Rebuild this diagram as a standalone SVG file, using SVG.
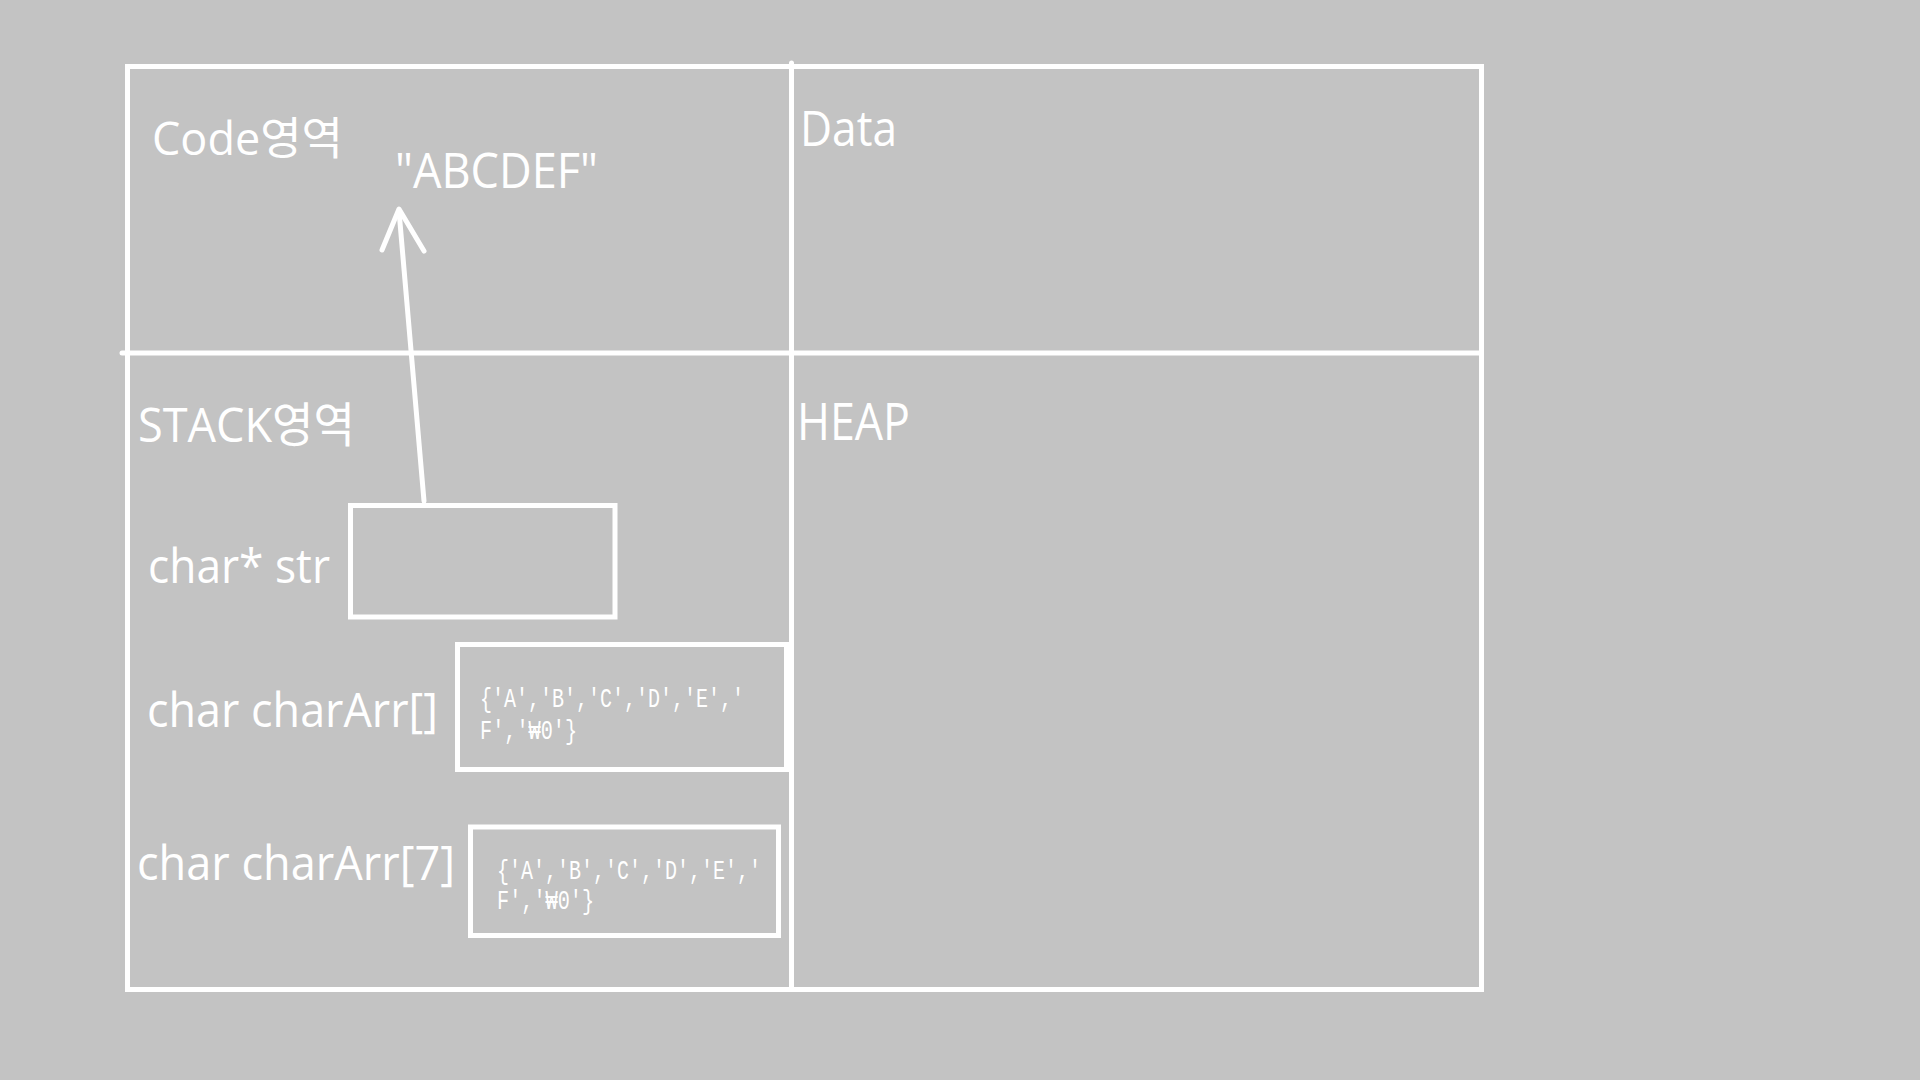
<svg xmlns="http://www.w3.org/2000/svg" width="1920" height="1080" viewBox="0 0 1920 1080">
  <style>
    .bg { fill: #c3c3c3; }
    .frame { fill: none; stroke: #ffffff; stroke-width: 5; stroke-linecap: round; }
    .box { fill: none; stroke: #ffffff; stroke-width: 5; }
    .lbl { fill: #ffffff; font-family: "Open Sans", "Noto Sans", "Noto Sans CJK KR", sans-serif; font-weight: 400; }
    .mono { fill: #ffffff; font-family: "Liberation Mono", "DejaVu Sans Mono", monospace; font-size: 28px; }
    .conn { fill: none; stroke: #ffffff; stroke-width: 5; stroke-linecap: round; stroke-linejoin: round; }
  </style>
  <rect class="bg" x="0" y="0" width="1920" height="1080"/>

  <g id="memory-frame">
    <rect class="frame" x="127.5" y="66.5" width="1354" height="923"/>
    <line class="frame" x1="122" y1="353" x2="1481.5" y2="353"/>
    <line class="frame" x1="791.5" y1="63" x2="791.5" y2="989.5"/>
  </g>

  <g id="code-region">
    <text class="lbl" x="152" y="155" font-size="45" textLength="191" lengthAdjust="spacingAndGlyphs">Code영역</text>
    <text class="lbl" x="395" y="188" font-size="50" textLength="203" lengthAdjust="spacingAndGlyphs">"ABCDEF"</text>
  </g>

  <g id="data-region">
    <text class="lbl" x="800" y="146" font-size="50" textLength="97" lengthAdjust="spacingAndGlyphs">Data</text>
  </g>

  <g id="stack-region">
    <text class="lbl" x="138" y="442" font-size="48" textLength="217" lengthAdjust="spacingAndGlyphs">STACK영역</text>
  </g>

  <g id="heap-region">
    <text class="lbl" x="797" y="440" font-size="51" textLength="113" lengthAdjust="spacingAndGlyphs">HEAP</text>
  </g>

  <g id="str-var">
    <text class="lbl" x="148" y="583" font-size="47" textLength="182" lengthAdjust="spacingAndGlyphs">char* str</text>
    <rect class="box" x="350.5" y="505.5" width="264.5" height="111.5"/>
  </g>

  <g id="chararr-var">
    <text class="lbl" x="147" y="727" font-size="48" textLength="291" lengthAdjust="spacingAndGlyphs">char charArr[]</text>
    <rect class="box" x="457.5" y="644.5" width="329" height="125"/>
    <text class="mono" x="480" y="707" textLength="264" lengthAdjust="spacingAndGlyphs">{'A','B','C','D','E','</text>
    <text class="mono" x="480" y="739" textLength="97" lengthAdjust="spacingAndGlyphs">F','₩0'}</text>
  </g>

  <g id="chararr7-var">
    <text class="lbl" x="137" y="880" font-size="47" textLength="318" lengthAdjust="spacingAndGlyphs">char charArr[7]</text>
    <rect class="box" x="470.5" y="827" width="308" height="108.5"/>
    <text class="mono" x="497" y="879" textLength="264" lengthAdjust="spacingAndGlyphs">{'A','B','C','D','E','</text>
    <text class="mono" x="497" y="909" textLength="97" lengthAdjust="spacingAndGlyphs">F','₩0'}</text>
  </g>

  <g id="connectors">
    <line class="conn" x1="424" y1="501" x2="399" y2="211"/>
    <polyline class="conn" points="382,250 399,209 424,251"/>
  </g>
</svg>
